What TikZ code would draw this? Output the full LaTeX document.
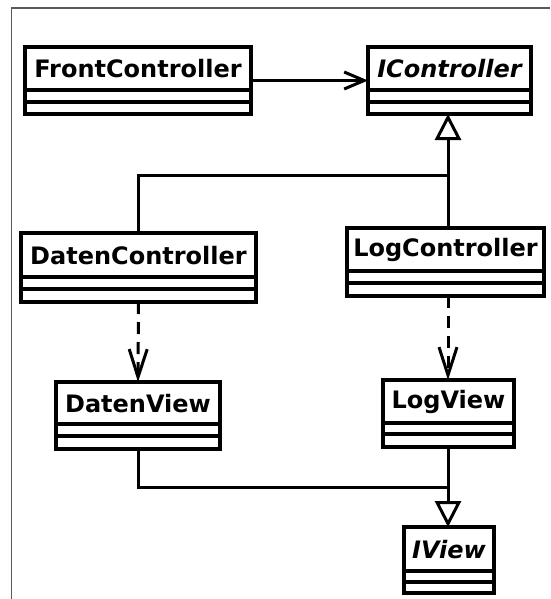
\documentclass[tikz,border=0pt]{standalone}
\usepackage{fontspec}
\setmainfont{DejaVu Sans}
\usetikzlibrary{arrows.meta}

% One UML class: name, left, top, right, bottom, divider 1, divider 2, label
\newcommand{\umlclass}[8]{%
  \node[classbox, minimum width={(#4-#2)*1pt}, minimum height={(#5-#3)*1pt}]
    (#1) at ({(#2+#4)/2},{(#3+#5)/2}) {};
  \draw[classline] (#2,#6) -- (#4,#6) (#2,#7) -- (#4,#7);
  \node[classname] at ({(#2+#4)/2},{(#3+#6)/2+0.5}) {#8};
}

\begin{document}
\begin{tikzpicture}[x=1pt, y=-1pt,
  classbox/.style={draw, line width=3.3pt, inner sep=0pt, outer sep=0pt, fill=white},
  classline/.style={line width=3.3pt},
  classname/.style={font=\fontsize{24}{27}\selectfont\bfseries, inner sep=0pt},
  conn/.style={line width=3pt},
  assoc/.style={conn, -{Straight Barb[length=20pt, width=17pt, line width=3pt]}},
  dep/.style={conn, dash pattern=on 12pt off 8pt, -{Straight Barb[length=28pt, width=18pt, line width=3pt]}},
  gen/.style={conn, -{Triangle[open, length=26pt, width=26pt, line width=3pt, fill=white]}},
  frameline/.style={draw=black!65, line width=1.3pt}]

\useasboundingbox (0,0) rectangle (550,599);
\draw[frameline] (11.5,599) -- (11.5,8) -- (550,8);

\umlclass{fc}{25}{47}{251}{114}{90}{102}{FrontController}
\umlclass{ic}{368}{47}{531}{114}{90}{102}{\itshape IController}
\umlclass{dc}{21}{233}{256}{302}{277}{289}{DatenController}
\umlclass{lc}{347}{228}{544}{296}{271}{283}{LogController}
\umlclass{dv}{56}{382}{220}{449}{424}{436}{DatenView}
\umlclass{lv}{383}{380}{514}{447}{423}{434}{LogView}
\umlclass{iv}{404}{527}{494}{593}{571}{582}{\itshape IView}

\coordinate (cj) at (448,175);
\coordinate (vj) at (448,487);

% association
\draw[assoc] (fc) -- (ic);

% controller inheritance
\draw[conn] (dc.north) |- (cj);
\draw[gen] (lc.north -| cj) -- (cj |- ic.south);

% dependencies on the views
\draw[dep] (dc.south) -- (dv.north);
\draw[dep] (lc.south -| cj) -- (lv.north -| cj);

% view inheritance
\draw[conn] (dv.south) |- (vj);
\draw[gen] (lv.south -| vj) -- (iv.north -| vj);
\end{tikzpicture}
\end{document}
